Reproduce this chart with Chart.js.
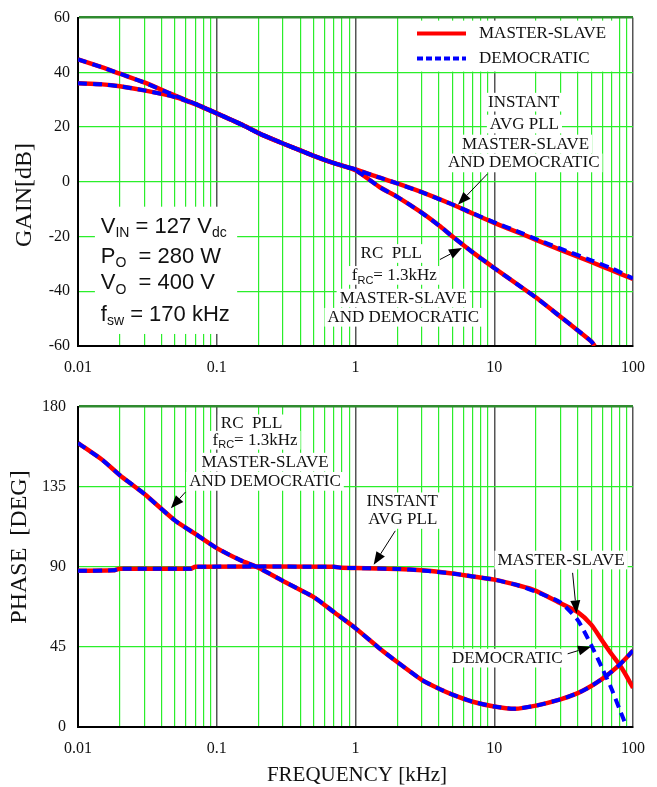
<!DOCTYPE html>
<html><head><meta charset="utf-8">
<script src="https://cdn.jsdelivr.net/npm/chart.js@4/dist/chart.umd.min.js"></script>
<style>
html,body{margin:0;padding:0;background:#fff;}
#wrap{position:relative;width:657px;height:787px;background:#fff;}
#c1{position:absolute;left:0;top:0;}
#c2{position:absolute;left:0;top:385px;}
</style></head><body>
<div id="wrap">
<canvas id="c1" width="657" height="385"></canvas>
<canvas id="c2" width="657" height="402"></canvas>
</div>
<script>
// ---------------- DATA ----------------
const seriesNames = ['MASTER-SLAVE', 'DEMOCRATIC'];
const freqTickLabels = ['0.01', '0.1', '1', '10', '100'];
const gainTickStep = 20;
const phaseTickStep = 45;

// GAIN – instantaneous average PLL
const gainInstFreq   = [0.01, 0.015, 0.02, 0.03, 0.05, 0.07, 0.1, 0.15, 0.2, 0.3, 0.5, 0.7, 1, 1.5, 2, 3, 5, 7, 10, 15, 20, 30, 50, 70, 100];
const gainInstMaster = [36, 35.6, 34.9, 33.4, 31, 28.4, 25, 21, 17.8, 14, 9.5, 6.8, 4.5, 1.5, -0.6, -3.8, -8.3, -11.6, -15, -18.6, -21.2, -24.9, -29.3, -32.3, -35.5];
const gainInstDemo   = [36, 35.6, 34.9, 33.4, 31, 28.4, 25, 21, 17.8, 14, 9.5, 6.8, 4.5, 1.5, -0.6, -3.8, -8.3, -11.5, -14.8, -18.3, -20.9, -24.4, -28.7, -31.6, -35.3];

// GAIN – RC PLL
const gainRcFreq   = [0.01, 0.015, 0.02, 0.03, 0.05, 0.07, 0.1, 0.15, 0.2, 0.3, 0.5, 0.7, 1, 1.5, 2, 3, 4, 5, 7, 10, 15, 20, 30, 40, 50, 53];
const gainRcMaster = [44.7, 41.8, 39.5, 36.3, 31.5, 28.5, 25, 21, 17.8, 14, 9.5, 6.8, 4.2, -2, -5.5, -11.3, -16, -20, -25.8, -31.5, -37.8, -42.3, -49.3, -54.3, -58.3, -60];
const gainRcDemo   = [44.7, 41.8, 39.5, 36.3, 31.5, 28.5, 25, 21, 17.8, 14, 9.5, 6.8, 4.2, -2, -5.5, -11.3, -16, -20, -25.8, -31.5, -37.8, -42.3, -49.3, -54.3, -58.3, -60];

// PHASE – RC PLL
const phaseRcFreq   = [0.01, 0.015, 0.02, 0.03, 0.05, 0.07, 0.1, 0.15, 0.2, 0.3, 0.5, 0.7, 1, 1.5, 2, 3, 4, 5, 7, 10, 14, 20, 30, 40, 50, 60, 70, 80, 90, 100];
const phaseRcMaster = [159.5, 150, 141.5, 131, 116, 108.5, 100.5, 93.5, 89.5, 82, 73, 64.5, 55.5, 44, 36.5, 26.5, 21.5, 18.2, 14.2, 11.5, 10.2, 12, 15.5, 19, 23, 27, 31, 35, 39, 43];
const phaseRcDemo   = [159.5, 150, 141.5, 131, 116, 108.5, 100.5, 93.5, 89.5, 82, 73, 64.5, 55.5, 44, 36.5, 26.5, 21.5, 18.2, 14.2, 11.5, 10.2, 12, 15.5, 19, 23, 27, 31, 35, 39, 43];

// PHASE – instantaneous average PLL
const phaseInstFreqMaster = [0.01, 0.018, 0.02, 0.065, 0.07, 0.7, 0.8, 1, 2, 3, 5, 7, 10, 15, 20, 30, 40, 50, 60, 70, 80, 90, 100];
const phaseInstMaster     = [87.8, 88, 88.9, 88.9, 90, 90, 89.4, 89.3, 88.8, 88, 86.2, 84.6, 82.8, 79.5, 76.5, 69.5, 64.5, 57.5, 48.5, 41, 35, 28.5, 22];
const phaseInstFreqDemo   = [0.01, 0.018, 0.02, 0.065, 0.07, 0.7, 0.8, 1, 2, 3, 5, 7, 10, 15, 20, 30, 40, 50, 60, 70, 80, 90];
const phaseInstDemo       = [87.8, 88, 88.9, 88.9, 90, 90, 89.4, 89.3, 88.8, 88, 86.2, 84.6, 82.8, 79.5, 76, 70, 60, 46, 33, 21.5, 10, 0];

// ---------------- STYLE / HELPERS ----------------
const serif = '"Liberation Serif", "Times New Roman", serif';
const sans = '"Liberation Sans", Arial, sans-serif';
const RED = '#ff0000', BLUE = '#0000ff', GRID = '#2bee2b';

function pts(xs, ys) { return xs.map((x, i) => ({x: x, y: ys[i]})); }
function decadeTicks() {
  const t = [];
  [0.01, 0.1, 1, 10].forEach(d => { for (let k = 1; k <= 9; k++) t.push(+(d * k).toPrecision(6)); });
  t.push(100);
  return t;
}
function isDecade(v) { const l = Math.log10(v); return Math.abs(l - Math.round(l)) < 1e-6; }

function redSet(data) {
  return {label: seriesNames[0], data: data, borderColor: RED, borderWidth: 4.5, pointRadius: 0, tension: 0.2, order: 1, fill: false};
}
function blueSet(data) {
  return {label: seriesNames[1], data: data, borderColor: BLUE, borderWidth: 4, borderDash: [9, 6], pointRadius: 0, tension: 0.2, order: 0, fill: false};
}

function richWidth(ctx, segs, size, fam, subFam) {
  let w = 0;
  segs.forEach(s => {
    ctx.font = (s.sub ? Math.round(size * 0.64) : size) + 'px ' + (s.sub ? subFam : fam);
    w += ctx.measureText(s.t).width;
  });
  return w;
}
function drawRich(ctx, segs, x, y, size, fam, subFam, align, bg) {
  const w = richWidth(ctx, segs, size, fam, subFam);
  let x0 = align === 'left' ? x : x - w / 2;
  if (bg) {
    ctx.fillStyle = '#fff';
    ctx.fillRect(x0 - 3, y - size * 0.55, w + 6, size * 1.1);
  }
  ctx.fillStyle = '#111';
  ctx.textBaseline = 'middle';
  ctx.textAlign = 'left';
  segs.forEach(s => {
    const sz = s.sub ? Math.round(size * 0.64) : size;
    ctx.font = sz + 'px ' + (s.sub ? subFam : fam);
    ctx.fillText(s.t, x0, s.sub ? y + size * 0.3 : y);
    x0 += ctx.measureText(s.t).width;
  });
}
function arrow(ctx, x1, y1, x2, y2) {
  ctx.save();
  ctx.strokeStyle = '#000'; ctx.fillStyle = '#000'; ctx.lineWidth = 1;
  const a = Math.atan2(y2 - y1, x2 - x1), L = 13, H = 5;
  const bx = x2 - L * Math.cos(a), by = y2 - L * Math.sin(a);
  ctx.beginPath(); ctx.moveTo(x1, y1); ctx.lineTo(bx, by); ctx.stroke();
  ctx.beginPath();
  ctx.moveTo(x2, y2);
  ctx.lineTo(bx + H * Math.sin(a), by - H * Math.cos(a));
  ctx.lineTo(bx - H * Math.sin(a), by + H * Math.cos(a));
  ctx.closePath(); ctx.fill();
  ctx.restore();
}

// notes: {texts:[{t|segs,f,v,align}], boxes:[{f1,f2,v1,v2}], arrows:[{from,to}], legend:bool, titleY:{t,x,y}, titleX:{t,x,y}}
function notesPlugin(notes) {
  return {
    id: 'notes',
    beforeDatasetsDraw(chart) {
      const ctx = chart.ctx, sx = chart.scales.x, sy = chart.scales.y, ca = chart.chartArea;
      ctx.save();
      (notes.boxes || []).forEach(b => {
        const x1 = sx.getPixelForValue(b.f1), x2 = sx.getPixelForValue(b.f2);
        const y1 = sy.getPixelForValue(b.v1), y2 = sy.getPixelForValue(b.v2);
        ctx.fillStyle = '#fff';
        ctx.fillRect(Math.min(x1, x2), Math.min(y1, y2), Math.abs(x2 - x1), Math.abs(y2 - y1));
      });
      (notes.texts || []).forEach(n => {
        const segs = n.segs || [{t: n.t}];
        drawRich(ctx, segs, sx.getPixelForValue(n.f), sy.getPixelForValue(n.v), n.size || 17,
                 n.fam || serif, sans, n.align || 'center', n.bg !== false);
      });
      if (notes.legend) {
        const r = ca.right, t = ca.top;
        ctx.fillStyle = '#fff';
        ctx.fillRect(r - 220, t + 3, 200, 51);
        const sets = [chart.data.datasets[0], chart.data.datasets[1]];
        [0, 1].forEach(i => {
          const ds = i === 0 ? sets.find(d => d.label === seriesNames[0]) : sets.find(d => d.label === seriesNames[1]);
          const y = t + 16 + i * 25;
          ctx.save();
          ctx.strokeStyle = ds.borderColor; ctx.lineWidth = 4;
          ctx.setLineDash(i === 0 ? [] : [6, 3]);
          ctx.beginPath(); ctx.moveTo(r - 216, y); ctx.lineTo(r - 167, y); ctx.stroke();
          ctx.restore();
          drawRich(ctx, [{t: ds.label}], r - 154, y, 17, serif, sans, 'left', false);
        });
      }
      ctx.restore();
    },
    afterDatasetsDraw(chart) {
      const ctx = chart.ctx, sx = chart.scales.x, sy = chart.scales.y;
      (notes.arrows || []).forEach(a => {
        arrow(ctx, sx.getPixelForValue(a.from[0]), sy.getPixelForValue(a.from[1]),
                   sx.getPixelForValue(a.to[0]), sy.getPixelForValue(a.to[1]));
      });
    },
    afterDraw(chart) {
      const ctx = chart.ctx;
      ctx.save();
      ctx.fillStyle = '#111';
      ctx.textAlign = 'center'; ctx.textBaseline = 'middle';
      if (notes.titleY) {
        ctx.save();
        ctx.translate(notes.titleY.x, notes.titleY.y);
        ctx.rotate(-Math.PI / 2);
        ctx.font = '24px ' + serif;
        ctx.fillText(notes.titleY.t, 0, 0);
        ctx.restore();
      }
      if (notes.titleX) {
        ctx.font = '21px ' + serif;
        ctx.fillText(notes.titleX.t, notes.titleX.x, notes.titleX.y);
      }
      ctx.restore();
    }
  };
}

function makeChart(id, o) {
  return new Chart(document.getElementById(id), {
    type: 'line',
    data: {datasets: o.datasets},
    options: {
      responsive: false, animation: false, devicePixelRatio: 1,
      layout: {padding: {left: 0, right: 21, top: o.padTop, bottom: 0}},
      plugins: {legend: {display: false}, tooltip: {enabled: false}},
      scales: {
        x: {
          type: 'logarithmic', min: 0.01, max: 100,
          afterBuildTicks: s => { s.ticks = decadeTicks().map(v => ({value: v})); },
          afterFit: s => { s.height = o.xAxisH; },
          ticks: {
            autoSkip: false, maxRotation: 0, minRotation: 0, padding: o.xPad, color: '#111',
            font: {family: serif, size: 16},
            callback: v => isDecade(v) ? freqTickLabels[Math.round(Math.log10(v)) + 2] : ''
          },
          grid: {
            drawTicks: false,
            color: c => (c.tick && isDecade(c.tick.value)) ? '#555' : GRID,
            lineWidth: c => (c.tick && isDecade(c.tick.value)) ? 1.5 : 1.2
          },
          border: {display: true, color: '#000', width: 2}
        },
        y: {
          min: o.yMin, max: o.yMax,
          afterFit: s => { s.width = 78; },
          ticks: {stepSize: o.yStep, padding: o.yPad, color: '#111', font: {family: serif, size: 16}},
          grid: {
            drawTicks: false,
            color: c => (c.tick && c.tick.value === o.yMax) ? '#2f8a2f' : GRID,
            lineWidth: c => (c.tick && c.tick.value === o.yMax) ? 2.5 : 1.2
          },
          border: {display: true, color: '#000', width: 2}
        }
      }
    },
    plugins: [notesPlugin(o.notes)]
  });
}

const fRC = [{t: 'f'}, {t: 'RC', sub: 1}, {t: '= 1.3kHz'}];

makeChart('c1', {
  padTop: 15, xAxisH: 39, xPad: 12, yMin: -60, yMax: 60, yStep: gainTickStep, yPad: 8,
  datasets: [
    redSet(pts(gainInstFreq, gainInstMaster)), blueSet(pts(gainInstFreq, gainInstDemo)),
    redSet(pts(gainRcFreq, gainRcMaster)), blueSet(pts(gainRcFreq, gainRcDemo))
  ],
  notes: {
    legend: true,
    boxes: [{f1: 0.01324, f2: 0.1403, v1: -9.1, v2: -55.6}],
    texts: [
      {t: 'INSTANT', f: 16.3, v: 29.1},
      {t: 'AVG PLL', f: 16.5, v: 21.1},
      {t: 'MASTER-SLAVE', f: 16.8, v: 13.8},
      {t: 'AND DEMOCRATIC', f: 16.3, v: 6.9},
      {t: 'RC  PLL', f: 1.81, v: -26.2},
      {segs: fRC, f: 1.904, v: -34.2},
      {t: 'MASTER-SLAVE', f: 2.208, v: -42.5},
      {t: 'AND DEMOCRATIC', f: 2.208, v: -49.5},
      {segs: [{t: 'V'}, {t: 'IN', sub: 1}, {t: ' = 127 V'}, {t: 'dc', sub: 1}], f: 0.0146, v: -16.4, align: 'left', fam: sans, size: 22, bg: false},
      {segs: [{t: 'P'}, {t: 'O', sub: 1}, {t: '  = 280 W'}], f: 0.0146, v: -27.3, align: 'left', fam: sans, size: 22, bg: false},
      {segs: [{t: 'V'}, {t: 'O', sub: 1}, {t: '  = 400 V'}], f: 0.0146, v: -37, align: 'left', fam: sans, size: 22, bg: false},
      {segs: [{t: 'f'}, {t: 'sw', sub: 1}, {t: ' = 170 kHz'}], f: 0.0146, v: -48.5, align: 'left', fam: sans, size: 22, bg: false}
    ],
    arrows: [
      {from: [8.94, 2.9], to: [5.47, -8.4]},
      {from: [4.06, -28.4], to: [5.85, -24.2]}
    ],
    titleY: {t: 'GAIN[dB]', x: 25, y: 195}
  }
});

makeChart('c2', {
  padTop: 12, xAxisH: 60, xPad: 12, yMin: 0, yMax: 180, yStep: phaseTickStep, yPad: 12,
  datasets: [
    redSet(pts(phaseRcFreq, phaseRcMaster)), blueSet(pts(phaseRcFreq, phaseRcDemo)),
    redSet(pts(phaseInstFreqMaster, phaseInstMaster)), blueSet(pts(phaseInstFreqDemo, phaseInstDemo))
  ],
  notes: {
    texts: [
      {t: 'RC  PLL', f: 0.1782, v: 170.3},
      {segs: fRC, f: 0.1888, v: 161.1},
      {t: 'MASTER-SLAVE', f: 0.2227, v: 148.8},
      {t: 'AND DEMOCRATIC', f: 0.2227, v: 138},
      {t: 'INSTANT', f: 2.173, v: 126.5},
      {t: 'AVG PLL', f: 2.19, v: 116.6},
      {t: 'MASTER-SLAVE', f: 30.3, v: 93.8},
      {t: 'DEMOCRATIC', f: 12.4, v: 38.7}
    ],
    arrows: [
      {from: [0.0595, 132], to: [0.0467, 122.9]},
      {from: [1.935, 110.2], to: [1.352, 91.1]},
      {from: [36.7, 86.6], to: [39.2, 63.8]},
      {from: [33.8, 41.1], to: [49.8, 45.1]}
    ],
    titleY: {t: 'PHASE  [DEG]', x: 20, y: 162},
    titleX: {t: 'FREQUENCY [kHz]', x: 357, y: 390}
  }
});
</script>
</body></html>
